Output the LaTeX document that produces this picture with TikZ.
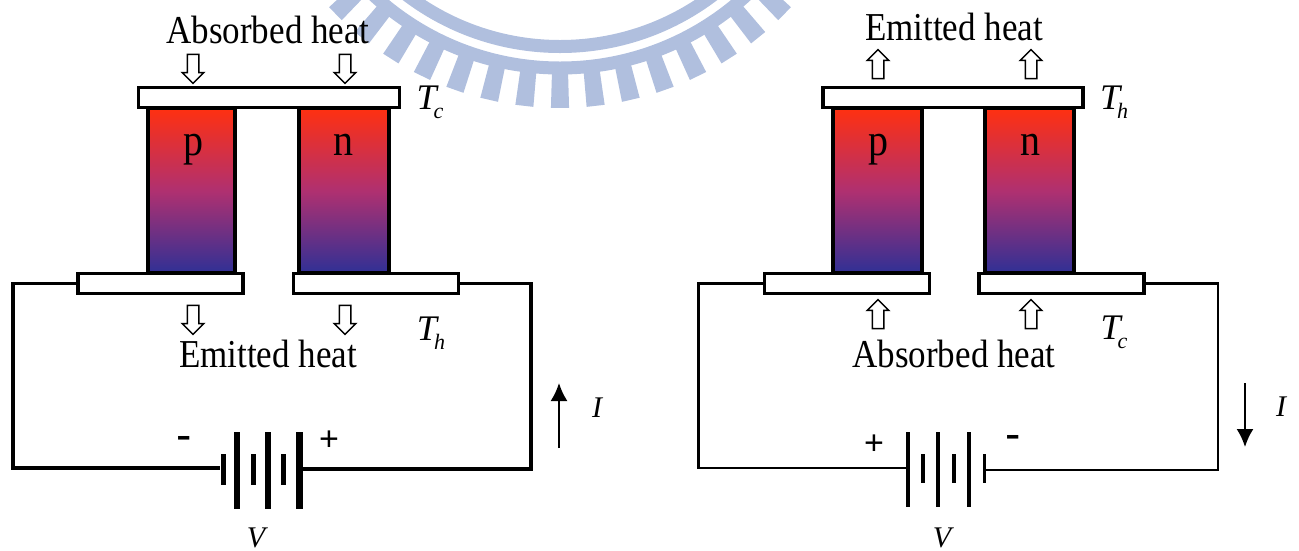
\documentclass[tikz,border=0pt]{standalone}
\usepackage{fontspec}
\setmainfont{Liberation Serif}
\setsansfont{Liberation Sans}
\usepackage{tikz}
\usetikzlibrary{arrows.meta,positioning,calc,shapes.arrows}
\definecolor{MarkBlue}{HTML}{B0BFDE}
\definecolor{LegTop}{HTML}{FF3010}
\definecolor{LegMid}{HTML}{B03070}
\definecolor{LegBot}{HTML}{303095}
\newcommand{\tsub}[2]{{\fontsize{36}{40}\selectfont\itshape #1\kern-3pt\raisebox{-9pt}{\fontsize{22}{24}\selectfont #2}}}
\newcommand{\tallbox}[1]{\scalebox{1}[1.13]{#1}}
\tikzset{
  plate/.style={draw=black, fill=white, inner sep=0pt, line width=3.5pt},
  leg/.style={draw=black, inner sep=0pt, line width=4pt, minimum height=165pt, top color=LegTop, bottom color=LegBot, middle color=LegMid},
  heatdown/.style={single arrow, draw=black, fill=white, line width=1.5pt, inner xsep=5pt, inner ysep=0pt, minimum height=29pt, minimum width=21pt, single arrow head extend=5pt, shape border rotate=270},
  heatup/.style={heatdown, shape border rotate=90},
  cell/.style={fill=black, inner sep=0pt},
  heat/.style={font=\fontsize{35}{40}\selectfont, anchor=base, inner sep=0pt},
  letter/.style={font=\fontsize{40}{46}\selectfont, anchor=base, inner sep=0pt},
  sign/.style={font=\sffamily\fontsize{34}{38}\selectfont, inner sep=0pt},
  minussign/.style={font=\sffamily\fontsize{46}{50}\selectfont, inner sep=0pt},
  var/.style={font=\itshape\fontsize{30}{34}\selectfont, inner sep=0pt},
  wirethick/.style={line width=3.5pt, line join=miter},
  wirethin/.style={line width=2.2pt, line join=miter},
  current/.style={line width=2pt, -{Latex[length=18pt,width=17pt]}}
}
\begin{document}
\begin{tikzpicture}[x=1pt, y=-1pt, >=Latex]
  \useasboundingbox (0,0) rectangle (1299,550);
  % watermark behind everything
  \begin{scope}
    \clip (0,0) rectangle (1299,550);
    \begin{scope}[shift={(560,-207)}]
      \draw[MarkBlue, line width=13pt] (0,0) circle[radius=253.5];
      \draw[MarkBlue, line width=13pt] (0,0) circle[radius=275];
      \foreach \ang in {-65,-58.5,...,65} {
        \fill[MarkBlue] (90+\ang-1.65:280) -- (90+\ang+1.65:280)
          -- (90+\ang+1.65:315) -- (90+\ang-1.65:315) -- cycle;
      }
    \end{scope}
  \end{scope}
  % left couple
  \node[leg, minimum width=87pt] (pL) at (191.5,190.5) {};
  \node[leg, minimum width=89.5pt] (nL) at (344,190.5) {};
  \node[plate, minimum width=261pt, minimum height=20pt] (topL) at (269,97.5) {};
  \node[plate, minimum width=165pt, minimum height=20pt] (botpL) at (160.5,283.5) {};
  \node[plate, minimum width=165pt, minimum height=20pt] (botnL) at (376,283.5) {};
  \node[letter] (pLtxt) at (193,155) {\tallbox{p}};
  \node[letter] (nLtxt) at (343,155) {\tallbox{n}};
  \node[heat] (absL) at (268,43) {\tallbox{Absorbed heat}};
  \node[heat] (emiL) at (268,367) {\tallbox{Emitted heat}};
  \node[heatdown] (a1L) at (193,66) {};
  \node[heatdown] (a2L) at (345,66) {};
  \node[heatdown] (a3L) at (193,317) {};
  \node[heatdown] (a4L) at (345,317) {};
  \node (tcL) at (430,102) {\tsub{T}{c}};
  \node (thL) at (431,333) {\tsub{T}{h}};
  % left battery
  \node[cell, minimum width=5pt, minimum height=31pt] (b1L) at (223,469) {};
  \node[cell, minimum width=6pt, minimum height=77pt] (b2L) at (237,470) {};
  \node[cell, minimum width=5pt, minimum height=31pt] (b3L) at (253,469) {};
  \node[cell, minimum width=6pt, minimum height=77pt] (b4L) at (268,470) {};
  \node[cell, minimum width=5pt, minimum height=31pt] (b5L) at (283,469) {};
  \node[cell, minimum width=7pt, minimum height=77pt] (b6L) at (299,470) {};
  \coordinate (c1L) at (13,468);
  \coordinate (c2L) at (531,469);
  \draw[wirethick] (botpL.west) -| (c1L) -- (c1L -| b1L.west);
  \draw[wirethick] (botnL.east) -| (c2L) -- (c2L -| b6L.east);
  \node[minussign] (mL) at (184,443) {-};
  \node[sign] (pmL) at (329,441) {+};
  \node[var] (vL) at (256,538) {V};
  \coordinate (i1L) at (559,448);
  \coordinate (i2L) at (559,383);
  \draw[current] (i1L) -- (i2L);
  \node[var] (iL) at (597,408) {I};
  % right couple
  \node[leg, minimum width=89pt] (pR) at (877.5,190.5) {};
  \node[leg, minimum width=89pt] (nR) at (1029.5,190.5) {};
  \node[plate, minimum width=260pt, minimum height=20pt] (topR) at (953,97.5) {};
  \node[plate, minimum width=165pt, minimum height=20pt] (botpR) at (847,283.5) {};
  \node[plate, minimum width=165pt, minimum height=20pt] (botnR) at (1061.5,283.5) {};
  \node[letter] (pRtxt) at (878,155) {\tallbox{p}};
  \node[letter] (nRtxt) at (1030,155) {\tallbox{n}};
  \node[heat] (emiR) at (954,40) {\tallbox{Emitted heat}};
  \node[heat] (absR) at (954,367) {\tallbox{Absorbed heat}};
  \node[heatup] (a1R) at (878,67) {};
  \node[heatup] (a2R) at (1031,67) {};
  \node[heatup] (a3R) at (878,317) {};
  \node[heatup] (a4R) at (1031,317) {};
  \node (thR) at (1114,102) {\tsub{T}{h}};
  \node (tcR) at (1114,332) {\tsub{T}{c}};
  % right battery
  \node[cell, minimum width=4pt, minimum height=75pt] (b1R) at (908,469.5) {};
  \node[cell, minimum width=4pt, minimum height=29pt] (b2R) at (923,468.5) {};
  \node[cell, minimum width=4pt, minimum height=75pt] (b3R) at (938,469.5) {};
  \node[cell, minimum width=4pt, minimum height=29pt] (b4R) at (954,468.5) {};
  \node[cell, minimum width=4pt, minimum height=75pt] (b5R) at (969,469.5) {};
  \node[cell, minimum width=3pt, minimum height=29pt] (b6R) at (984,468.5) {};
  \coordinate (c1R) at (698.5,468);
  \coordinate (c2R) at (1218,470);
  \draw[wirethin] (botpR.west) -| (c1R) -- (c1R -| b1R.west);
  \draw[wirethin] (botnR.east) -| (c2R) -- (c2R -| b6R.east);
  \node[sign] (pmR) at (874,445) {+};
  \node[minussign] (mR) at (1013,442) {-};
  \node[var] (vR) at (942,538) {V};
  \coordinate (i1R) at (1245,383);
  \coordinate (i2R) at (1245,447);
  \draw[current] (i1R) -- (i2R);
  \node[var] (iR) at (1281,407) {I};
\end{tikzpicture}
\end{document}
